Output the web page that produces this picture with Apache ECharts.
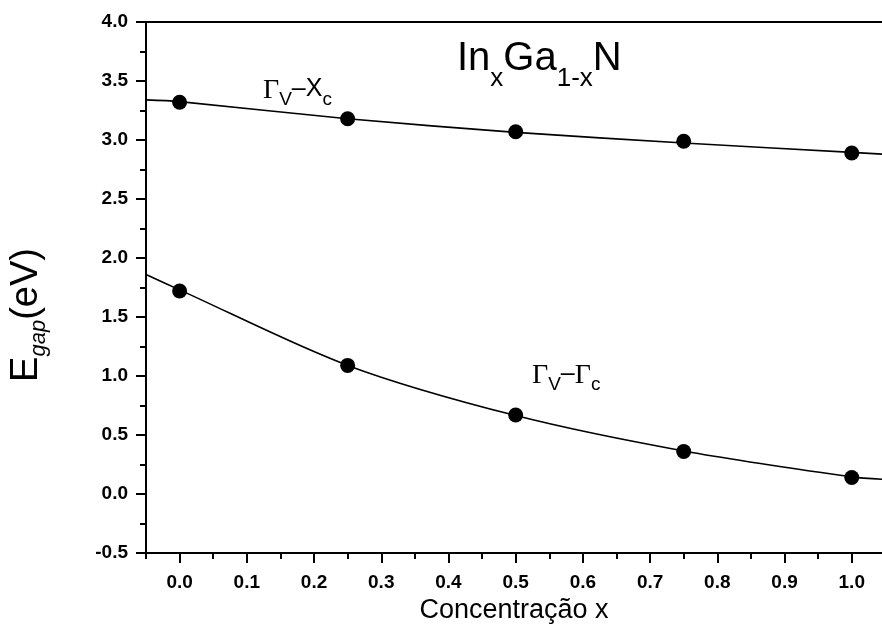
<!DOCTYPE html>
<html>
<head>
<meta charset="utf-8">
<script src="https://cdn.jsdelivr.net/npm/echarts@6/dist/echarts.min.js"></script>
<style>html,body{margin:0;padding:0;background:#fff;}#c{width:882px;height:630px;}</style>
</head>
<body>
<div id="c"></div>
<script>
// ---- data ----
const xPoints = [0, 0.25, 0.5, 0.75, 1.0];
const gammaX = [3.32, 3.18, 3.07, 2.99, 2.89];       // Γv–Xc
const gammaGamma = [1.72, 1.09, 0.67, 0.36, 0.14];   // Γv–Γc
const xFit = [-0.05, 0, 0.25, 0.5, 0.75, 1.0, 1.045];
const fitGammaX = [3.34, 3.325, 3.18, 3.065, 2.975, 2.895, 2.88];
const fitGammaGamma = [1.86, 1.73, 1.09, 0.665, 0.365, 0.145, 0.125];
const xMajorTicks = [0, 0.1, 0.2, 0.3, 0.4, 0.5, 0.6, 0.7, 0.8, 0.9, 1.0];
const xMinorTicks = [-0.05, 0.05, 0.15, 0.25, 0.35, 0.45, 0.55, 0.65, 0.75, 0.85, 0.95, 1.05];
const yMin = -0.5, yMax = 4.0, yStep = 0.5;
const xMin = -0.05, xMax = 1.045;

const FONT = 'Liberation Sans, Arial, sans-serif';
const pairs = (xs, ys) => xs.map((x, i) => [x, ys[i]]);

const chart = echarts.init(document.getElementById('c'), null, {renderer: 'canvas'});
const axisLine = {show: true, onZero: false, lineStyle: {color: '#000', width: 2}};
const labelRich = {
  g: {fontFamily: 'Liberation Serif, serif', fontSize: 28, fontWeight: 'normal', lineHeight: 26, verticalAlign: 'top', color: '#000'},
  t: {fontFamily: FONT, fontSize: 25, fontWeight: 'normal', lineHeight: 26, verticalAlign: 'top', color: '#000'},
  s: {fontFamily: FONT, fontSize: 19, fontWeight: 'normal', lineHeight: 19, verticalAlign: 'top', padding: [13, 0, 0, 0], color: '#000'}
};
chart.setOption({
  animation: false,
  backgroundColor: '#fff',
  title: [
    {
      left: 457, top: 39, padding: 0,
      text: '{m|In}{s|x}{m|Ga}{s|1-x}{m|N}',
      textStyle: {
        fontWeight: 'normal',
        rich: {
          m: {fontFamily: FONT, fontSize: 40, fontWeight: 'normal', lineHeight: 40, verticalAlign: 'top', color: '#000'},
          s: {fontFamily: FONT, fontSize: 26, fontWeight: 'normal', lineHeight: 26, verticalAlign: 'top', padding: [27, 0, 0, 0], color: '#000'}
        }
      }
    },
    {
      left: 263, top: 77, padding: 0,
      text: '{g|Γ}{s|V}{t|–X}{s|c}',
      textStyle: {fontWeight: 'normal', rich: labelRich}
    },
    {
      left: 532, top: 362, padding: 0,
      text: '{g|Γ}{s|V}{t|–}{g|Γ}{s|c}',
      textStyle: {fontWeight: 'normal', rich: labelRich}
    }
  ],
  grid: {left: 142, right: 0, top: 22, bottom: 77, containLabel: false},
  xAxis: [
    {
      type: 'value', min: xMin, max: xMax, position: 'bottom',
      axisLine: axisLine,
      axisTick: {show: true, inside: false, length: 10, customValues: xMajorTicks, lineStyle: {color: '#000', width: 2}},
      axisLabel: {show: true, customValues: xMajorTicks, formatter: v => v.toFixed(1), margin: 20,
        fontFamily: FONT, fontSize: 19, fontWeight: 'bold', color: '#000'},
      splitLine: {show: false},
      name: 'Concentração x', nameLocation: 'middle', nameGap: 37,
      nameTextStyle: {fontFamily: FONT, fontSize: 27, color: '#000'}
    },
    {
      type: 'value', min: xMin, max: xMax, position: 'bottom', offset: 0,
      axisLine: {show: false, onZero: false},
      axisTick: {show: true, inside: false, length: 6, customValues: xMinorTicks, lineStyle: {color: '#000', width: 2}},
      axisLabel: {show: false},
      splitLine: {show: false}
    },
    {
      type: 'value', min: xMin, max: xMax, position: 'top', offset: 0,
      axisLine: axisLine,
      axisTick: {show: false},
      axisLabel: {show: false},
      splitLine: {show: false}
    }
  ],
  yAxis: {
    type: 'value', min: yMin, max: yMax, interval: yStep,
    axisLine: axisLine,
    axisTick: {show: true, inside: false, length: 10, lineStyle: {color: '#000', width: 2}},
    minorTick: {show: true, splitNumber: 2, length: 6, lineStyle: {color: '#000', width: 2}},
    axisLabel: {formatter: v => v.toFixed(1), margin: 18, fontFamily: FONT, fontSize: 19, fontWeight: 'bold', color: '#000'},
    splitLine: {show: false},
    minorSplitLine: {show: false},
    name: '{e|E}{s|gap}{e|(eV)}', nameLocation: 'middle', nameGap: 94,
    nameTextStyle: {
      padding: [0, 55, 0, 0],
      rich: {
        e: {fontFamily: FONT, fontSize: 38, lineHeight: 44, verticalAlign: 'top', color: '#000'},
        s: {fontFamily: FONT, fontSize: 22, fontStyle: 'italic', lineHeight: 22, verticalAlign: 'top', padding: [20, 0, 0, 0], color: '#000'}
      }
    }
  },
  series: [
    {
      type: 'line', xAxisIndex: 0, data: pairs(xFit, fitGammaX), smooth: 0.3,
      showSymbol: false, symbol: 'none', lineStyle: {color: '#000', width: 1.6}, silent: true
    },
    {
      type: 'line', xAxisIndex: 0, data: pairs(xFit, fitGammaGamma), smooth: 0.3,
      showSymbol: false, symbol: 'none', lineStyle: {color: '#000', width: 1.6}, silent: true
    },
    {
      type: 'scatter', xAxisIndex: 0, data: pairs(xPoints, gammaX), symbol: 'circle', symbolSize: 15,
      itemStyle: {color: '#000', opacity: 1}
    },
    {
      type: 'scatter', xAxisIndex: 0, data: pairs(xPoints, gammaGamma), symbol: 'circle', symbolSize: 15,
      itemStyle: {color: '#000', opacity: 1}
    }
  ]
});
</script>
</body>
</html>
